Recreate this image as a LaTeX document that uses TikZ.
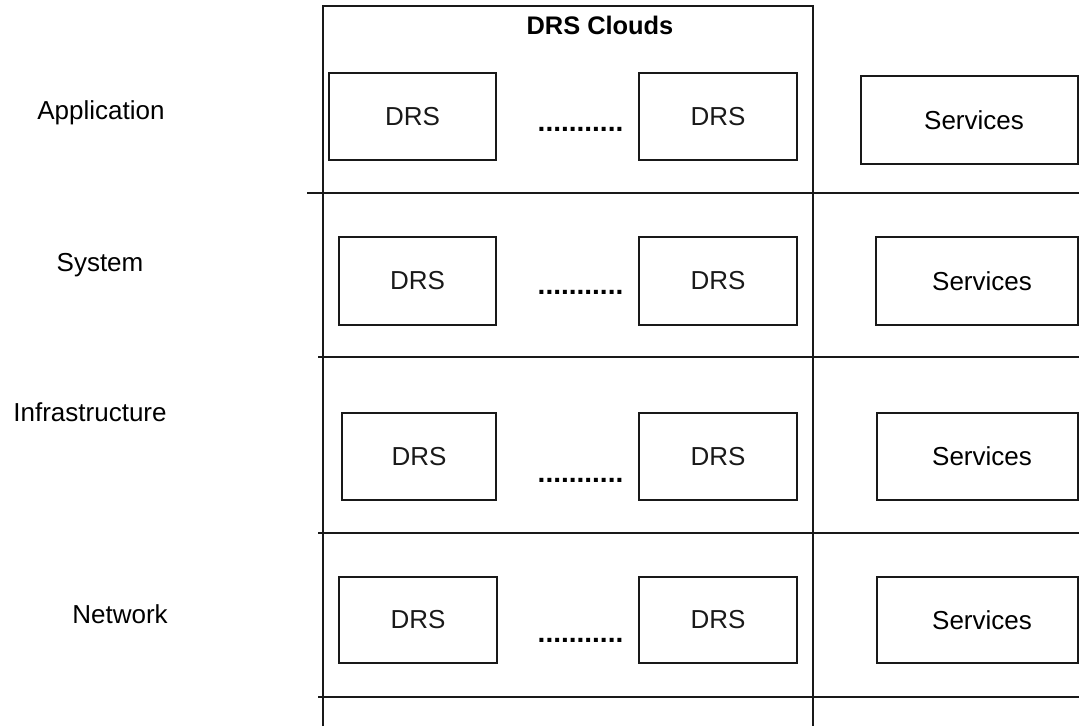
\documentclass[tikz,border=0pt]{standalone}
\usepackage{fontspec}
\setmainfont{Liberation Sans}
\begin{document}
\begin{tikzpicture}[x=1pt,y=-1pt,
  rule/.style={line width=1.8pt,black!90},
  unit/.style={draw,line width=1.8pt,black!90,inner sep=0pt,
    font=\fontsize{26}{31}\selectfont},
  layer/.style={anchor=base,inner sep=0pt,font=\fontsize{26}{31}\selectfont},
  txt/.style={inner sep=0pt,font=\fontsize{26}{31}\selectfont},
  ellip/.style={anchor=base,inner sep=0pt,font=\fontsize{28}{33}\selectfont\bfseries}]
\useasboundingbox (0,0) rectangle (1079,726);

% outer frame of the cloud column
\coordinate (ftl) at (323,6);
\coordinate (ftr) at (813,6);
\coordinate (fbl) at (323,726);
\coordinate (fbr) at (813,726);
\draw[rule] (fbl) -- (ftl) -- (ftr) -- (fbr);

% layer separators
\coordinate (h1a) at (307,193); \coordinate (h1b) at (1079,193);
\coordinate (h2a) at (318,357); \coordinate (h2b) at (1079,357);
\coordinate (h3a) at (318,533); \coordinate (h3b) at (1079,533);
\coordinate (h4a) at (318,697); \coordinate (h4b) at (1079,697);
\draw[rule] (h1a) -- (h1b);
\draw[rule] (h2a) -- (h2b);
\draw[rule] (h3a) -- (h3b);
\draw[rule] (h4a) -- (h4b);

\node[anchor=base,inner sep=0pt,font=\fontsize{25.4}{30}\selectfont\bfseries] (title) at (600,34.5) {DRS Clouds};

% layer names
\node[layer] (lapp) at (101,119.5) {Application};
\node[layer] (lsys) at (100,271.5) {System};
\node[layer] (linf) at (90,421.5) {Infrastructure};
\node[layer] (lnet) at (120,623) {Network};

% application layer
\node[unit,minimum width=167pt,minimum height=87pt] (a1) at (412.5,116.5) {DRS};
\node[unit,minimum width=158pt,minimum height=87pt] (a2) at (718,116.5) {DRS};
\node[ellip] (adots) at (580.5,131.5) {...........};
\node[unit,minimum width=217pt,minimum height=88pt] (as) at (969.5,120) {};
\node[txt] (ast) at (974,120) {Services};

% system layer
\node[unit,minimum width=157pt,minimum height=88pt] (b1) at (417.5,281) {DRS};
\node[unit,minimum width=158pt,minimum height=88pt] (b2) at (718,281) {DRS};
\node[ellip] (bdots) at (580.5,294.5) {...........};
\node[unit,minimum width=202pt,minimum height=88pt] (bs) at (977,281) {};
\node[txt] (bst) at (982,281) {Services};

% infrastructure layer
\node[unit,minimum width=154pt,minimum height=87pt] (c1) at (419,456.5) {DRS};
\node[unit,minimum width=158pt,minimum height=87pt] (c2) at (718,456.5) {DRS};
\node[ellip] (cdots) at (580.5,482) {...........};
\node[unit,minimum width=201pt,minimum height=87pt] (cs) at (977.5,456.5) {};
\node[txt] (cst) at (982,456.5) {Services};

% network layer
\node[unit,minimum width=158pt,minimum height=86pt] (d1) at (418,620) {DRS};
\node[unit,minimum width=158pt,minimum height=86pt] (d2) at (718,620) {DRS};
\node[ellip] (ddots) at (580.5,642.5) {...........};
\node[unit,minimum width=201pt,minimum height=86pt] (ds) at (977.5,620) {};
\node[txt] (dst) at (982,620) {Services};
\end{tikzpicture}
\end{document}
